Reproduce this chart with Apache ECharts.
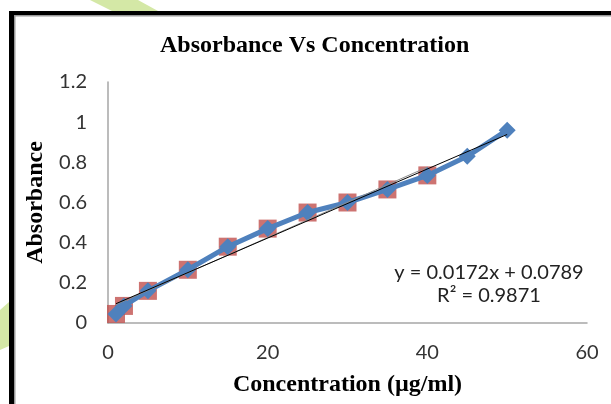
<!DOCTYPE html>
<html>
<head>
<meta charset="utf-8">
<script src="https://cdn.jsdelivr.net/npm/echarts@6/dist/echarts.min.js"></script>
<style>
  html, body { margin: 0; padding: 0; background: #fff; }
  #chart { width: 611px; height: 404px; }
</style>
</head>
<body>
<div id="chart"></div>
<script>
// Calibration data: concentration (µg/ml) and measured absorbance
const concentration = [1, 2, 5, 10, 15, 20, 25, 30, 35, 40, 45, 50];
const absorbance = [0.045, 0.085, 0.16, 0.265, 0.38, 0.47, 0.55, 0.6, 0.665, 0.735, 0.83, 0.96];
// Standards plotted with square markers (1–40 µg/ml)
const standardConc = [1, 2, 5, 10, 15, 20, 25, 30, 35, 40];
const standardAbs = [0.045, 0.085, 0.16, 0.265, 0.38, 0.47, 0.55, 0.6, 0.665, 0.735];
// Linear trendline reported on the chart
const slope = 0.0172;
const intercept = 0.0789;
const rSquared = 0.9871;
// Axis ticks
const xTicks = [0, 20, 40, 60];
const yTicks = [0, 0.2, 0.4, 0.6, 0.8, 1, 1.2];

const pairs = (xs, ys) => xs.map((x, i) => [x, ys[i]]);

// Least-squares fit of the standards (second, grey trendline)
function linFit(xs, ys) {
  const n = xs.length;
  const mx = xs.reduce((a, b) => a + b, 0) / n;
  const my = ys.reduce((a, b) => a + b, 0) / n;
  let sxy = 0, sxx = 0;
  for (let i = 0; i < n; i++) {
    sxy += (xs[i] - mx) * (ys[i] - my);
    sxx += (xs[i] - mx) * (xs[i] - mx);
  }
  const m = sxy / sxx;
  return { m: m, b: my - m * mx };
}
const stdFit = linFit(standardConc, standardAbs);

const xFirst = concentration[0];
const xLast = concentration[concentration.length - 1];
const trendMain = [[xFirst, intercept + slope * xFirst], [xLast, intercept + slope * xLast]];
const trendStd = [
  [standardConc[0], stdFit.b + stdFit.m * standardConc[0]],
  [standardConc[standardConc.length - 1], stdFit.b + stdFit.m * standardConc[standardConc.length - 1]]
];

const labelFont = 'Lato, "Open Sans", sans-serif';
const serifFont = '"Liberation Serif", "Times New Roman", serif';

const chart = echarts.init(document.getElementById('chart'), null, { renderer: 'canvas' });

chart.setOption({
  animation: false,
  backgroundColor: '#ffffff',
  title: {
    text: 'Absorbance Vs Concentration',
    left: 160,
    top: 34,
    padding: 0,
    textStyle: { fontFamily: serifFont, fontWeight: 'bold', fontSize: 24, color: '#000' }
  },
  grid: { left: 108, right: 24, top: 82, bottom: 81, containLabel: false },
  xAxis: {
    type: 'value',
    min: xTicks[0],
    max: xTicks[xTicks.length - 1],
    interval: xTicks[1] - xTicks[0],
    name: 'Concentration (µg/ml)',
    nameLocation: 'middle',
    nameGap: 50,
    nameTextStyle: { fontFamily: serifFont, fontWeight: 'bold', fontSize: 24, color: '#000' },
    axisLine: { lineStyle: { color: '#A6A6A6', width: 1.5 } },
    axisTick: { show: false },
    splitLine: { show: false },
    axisLabel: { fontFamily: labelFont, fontSize: 20, color: '#333', margin: 20 }
  },
  yAxis: {
    type: 'value',
    min: yTicks[0],
    max: yTicks[yTicks.length - 1],
    interval: 0.2,
    name: 'Absorbance',
    nameLocation: 'middle',
    nameRotate: 90,
    nameGap: 55,
    nameTextStyle: { fontFamily: serifFont, fontWeight: 'bold', fontSize: 24, color: '#000' },
    axisLine: { show: true, lineStyle: { color: '#A6A6A6', width: 1.5 } },
    axisTick: { show: false },
    splitLine: { show: false },
    axisLabel: {
      fontFamily: labelFont, fontSize: 20, color: '#333', margin: 21,
      formatter: v => String(+v.toFixed(1))
    }
  },
  series: [
    {
      name: 'Standards',
      type: 'scatter',
      data: pairs(standardConc, standardAbs),
      symbol: 'rect',
      symbolSize: 18,
      itemStyle: { color: '#C0504D' },
      z: 2,
      silent: true
    },
    {
      name: 'Absorbance',
      type: 'line',
      data: pairs(concentration, absorbance),
      symbol: 'diamond',
      symbolSize: 17,
      showSymbol: true,
      lineStyle: { color: '#4F81BD', width: 5 },
      itemStyle: { color: '#4F81BD' },
      z: 3,
      silent: true
    },
    {
      name: 'Fit (standards)',
      type: 'line',
      data: trendStd,
      symbol: 'none',
      lineStyle: { color: '#8C8C8C', width: 1 },
      z: 4,
      silent: true
    },
    {
      name: 'Linear fit',
      type: 'line',
      data: trendMain,
      symbol: 'none',
      lineStyle: { color: '#000', width: 1 },
      z: 5,
      silent: true
    }
  ],
  graphic: [
    // page frame
    { type: 'rect', shape: { x: 9, y: 11, width: 602, height: 4 }, style: { fill: '#000' }, silent: true },
    { type: 'rect', shape: { x: 13, y: 15, width: 598, height: 1.5 }, style: { fill: '#9A9A9A' }, silent: true },
    { type: 'rect', shape: { x: 9, y: 11, width: 5, height: 393 }, style: { fill: '#000' }, silent: true },
    { type: 'rect', shape: { x: 14, y: 15, width: 1.5, height: 389 }, style: { fill: '#9A9A9A' }, silent: true },
    // green page decoration
    { type: 'polygon', shape: { points: [[90, 0], [138, 0], [158, 11], [112, 11]] }, style: { fill: '#D4E8A6' }, silent: true },
    { type: 'polygon', shape: { points: [[0, 310], [9, 302], [9, 346], [0, 350]] }, style: { fill: '#D4E8A6' }, silent: true },
    // trendline equation
    {
      type: 'text',
      x: 489, y: 284,
      style: {
        text: 'y = ' + slope.toFixed(4) + 'x + ' + intercept.toFixed(4) + '\nR² = ' + rSquared.toFixed(4),
        font: '20px ' + labelFont,
        fill: '#222',
        align: 'center',
        verticalAlign: 'middle',
        lineHeight: 23
      },
      silent: true
    }
  ]
});
</script>
</body>
</html>
